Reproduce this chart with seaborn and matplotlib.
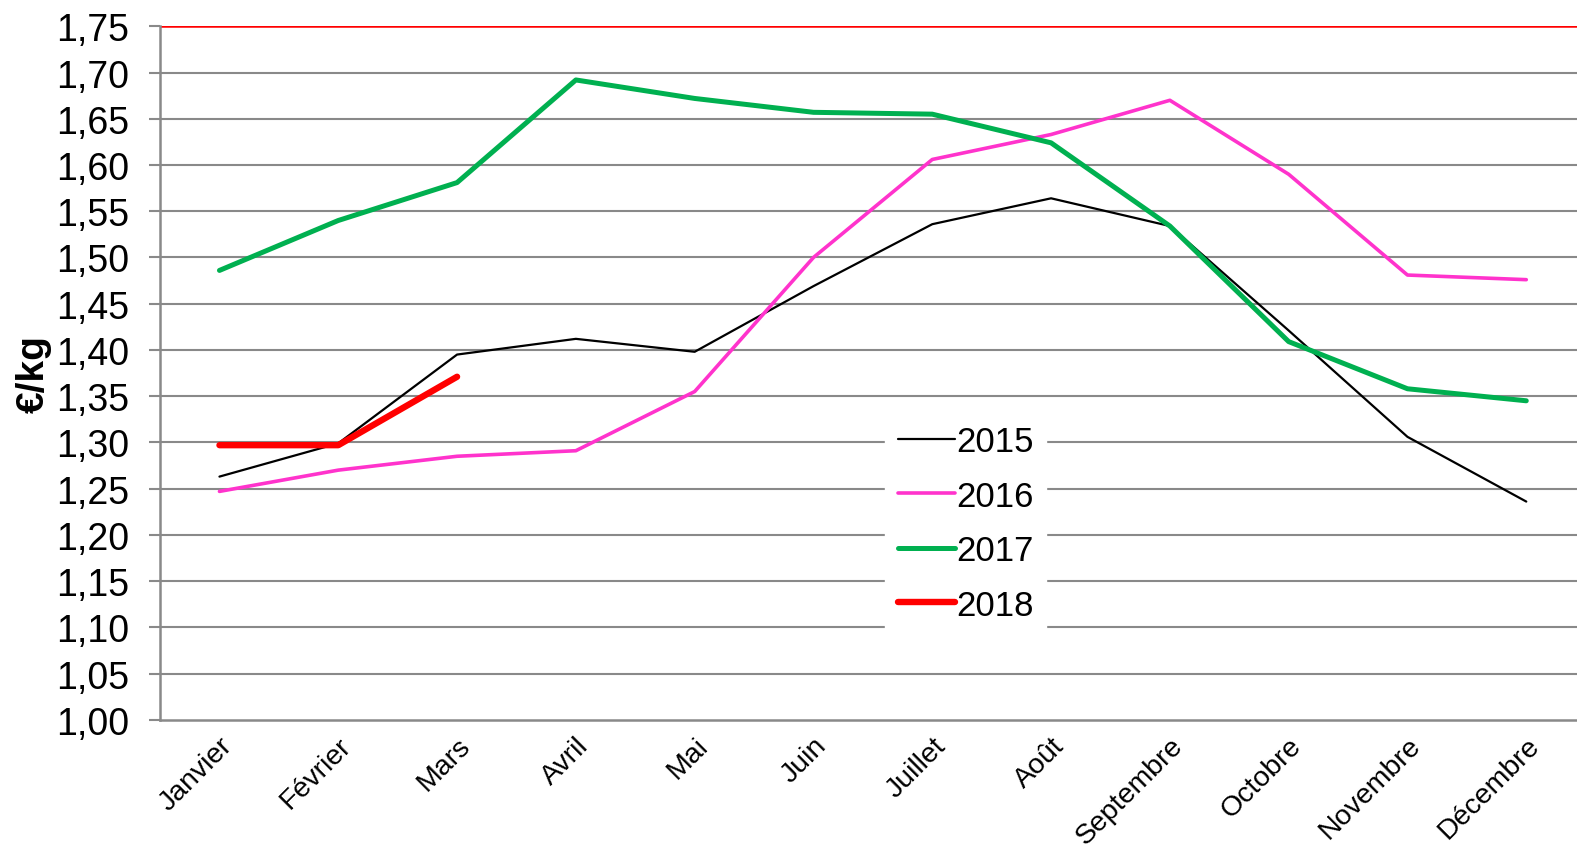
import pandas as pd
import matplotlib.pyplot as plt
import seaborn as sns
from matplotlib.ticker import MultipleLocator, FuncFormatter

# Monthly prices in €/kg
mois = ['Janvier', 'Février', 'Mars', 'Avril', 'Mai', 'Juin', 'Juillet',
        'Août', 'Septembre', 'Octobre', 'Novembre', 'Décembre']
prix_2015 = [1.263, 1.299, 1.395, 1.412, 1.398, 1.469, 1.536, 1.564, 1.534, 1.421, 1.306, 1.236]
prix_2016 = [1.247, 1.270, 1.285, 1.291, 1.355, 1.500, 1.606, 1.633, 1.670, 1.590, 1.481, 1.476]
prix_2017 = [1.486, 1.540, 1.581, 1.692, 1.672, 1.657, 1.655, 1.624, 1.534, 1.409, 1.358, 1.345]
prix_2018 = [1.297, 1.297, 1.371]

series = {'2015': prix_2015, '2016': prix_2016, '2017': prix_2017, '2018': prix_2018}
couleurs = {'2015': '#000000', '2016': '#FF33CC', '2017': '#00B050', '2018': '#FF0000'}
epaisseurs = {'2015': 1.6, '2016': 2.6, '2017': 3.6, '2018': 4.6}

rows = []
for annee, vals in series.items():
    for i, v in enumerate(vals):
        rows.append({'Mois': i, 'Prix': v, 'Année': annee})
df = pd.DataFrame(rows)

sns.set_style('white')
plt.rcParams['font.family'] = ['Liberation Sans', 'DejaVu Sans']
plt.rcParams['text.color'] = 'black'
plt.rcParams['xtick.labelcolor'] = 'black'
plt.rcParams['ytick.labelcolor'] = 'black'

fig = plt.figure(figsize=(15.77, 8.54), dpi=100)
ax = fig.add_axes([0.1015, 0.156, 0.904, 0.812])

grid_col = '#898989'
for y in [1.00 + 0.05 * k for k in range(1, 15)]:
    ax.axhline(y, color=grid_col, lw=1.5, zorder=1)
ax.axhline(1.75, color='#FF0000', lw=1.8, zorder=1)

for annee in series:
    sub = df[df['Année'] == annee]
    sns.lineplot(data=sub, x='Mois', y='Prix', ax=ax, color=couleurs[annee],
                 lw=epaisseurs[annee], label=annee, zorder=3,
                 solid_capstyle='round', solid_joinstyle='round')

ax.set_xlim(-0.5, 11.5)
ax.set_ylim(1.00, 1.75)
ax.yaxis.set_major_locator(MultipleLocator(0.05))
ax.yaxis.set_major_formatter(FuncFormatter(lambda v, p: f'{v:.2f}'.replace('.', ',')))
ax.set_xticks(range(len(mois)))
ax.set_xticklabels(mois, rotation=45, ha='right', rotation_mode='anchor', fontsize=20.5)
ax.set_xticks([i - 0.5 for i in range(len(mois) + 1)], minor=True)
ax.tick_params(axis='x', which='major', length=0, pad=9, labelcolor='black')
ax.tick_params(axis='x', which='minor', length=8, width=1.5, color=grid_col, direction='out')
ax.tick_params(axis='y', length=8, width=1.5, color=grid_col, direction='out',
               labelsize=27, pad=14, labelcolor='black')
ax.tick_params(axis='both', bottom=True, left=True)

for side in ['top', 'right']:
    ax.spines[side].set_visible(False)
for side in ['left', 'bottom']:
    ax.spines[side].set_color(grid_col)
    ax.spines[side].set_linewidth(1.8)

ax.set_xlabel('')
ax.set_ylabel('€/kg', fontsize=28, fontweight='bold', labelpad=3, color='black')

leg = ax.legend(loc='center', bbox_to_anchor=(0.6125, 0.386), bbox_transform=fig.transFigure,
                frameon=True, fontsize=25, handlelength=1.65, handletextpad=0.05,
                labelspacing=0.62, borderpad=0.35, fancybox=False)
leg.get_frame().set_edgecolor('white')
leg.get_frame().set_facecolor('white')
leg.get_frame().set_alpha(1)
leg.set_zorder(5)
for t in leg.get_texts():
    t.set_color('black')

fig.savefig('out.png', dpi=100)
